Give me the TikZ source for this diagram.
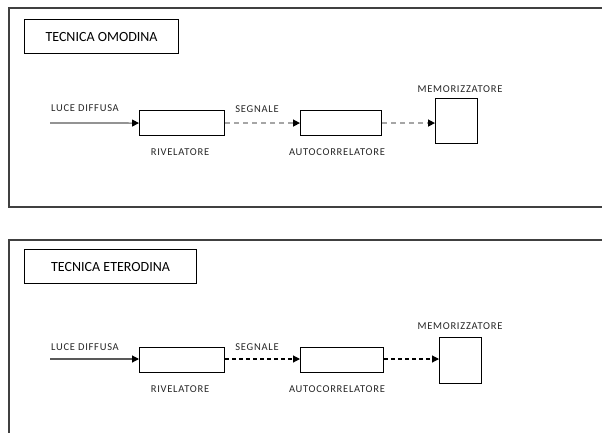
\documentclass[tikz,border=0pt]{standalone}
\usepackage{fontspec}
\setmainfont{Carlito}
\newfontfamily\lblfont[LetterSpace=7]{Carlito}
\usetikzlibrary{arrows.meta}
\begin{document}
\begin{tikzpicture}[x=1pt,y=-1pt,
  frame/.style={draw=black!75,line width=1.1pt},
  titlebox/.style={draw=black,line width=1.1pt,minimum width=#1,minimum height=34pt,inner sep=0pt,font=\fontsize{14}{16}\selectfont},
  blockbox/.style={draw=black,line width=1.1pt,inner sep=0pt},
  lbl/.style={font=\lblfont\fontsize{10.5}{12}\selectfont,inner sep=0pt,text=black!85},
  tip/.style={-{Triangle[length=7pt,width=7pt,fill=black,color=black]}},
  solidarrow/.style={tip,draw=black!65,line width=1.1pt},
  gdash/.style={tip,draw=black!35,line width=1.4pt,dash pattern=on 5pt off 4pt},
  kdash/.style={tip,draw=black,line width=1.1pt,dash pattern=on 4pt off 3pt}]
\useasboundingbox (0,0) rectangle (602,432);
% ---------- top panel ----------
\draw[frame] (608,8) -- (9,8) -- (9,207) -- (608,207);
\node[titlebox=154pt,anchor=north west] (t1) at (24,19) {TECNICA OMODINA};
\coordinate (s1) at (50,123);
\node[blockbox,minimum width=85pt,minimum height=25pt,anchor=north west] (r1) at (139,110) {};
\node[blockbox,minimum width=81pt,minimum height=25pt,anchor=north west] (a1) at (300,110) {};
\node[blockbox,minimum width=42pt,minimum height=45pt,anchor=north west] (m1) at (435,98) {};
\node[lbl] (l1) at (85,108) {LUCE DIFFUSA};
\node[lbl] (sg1) at (257,109) {SEGNALE};
\node[lbl] (rl1) at (180,152) {RIVELATORE};
\node[lbl] (al1) at (337,152) {AUTOCORRELATORE};
\node[lbl] (ml1) at (460,89) {MEMORIZZATORE};
\draw[solidarrow] (s1) -- (r1.west);
\draw[gdash] (r1.east) -- (a1.west);
\draw[gdash] (a1.east) -- (a1.east -| m1.west);
% ---------- bottom panel ----------
\draw[frame] (608,240) -- (9,240) -- (9,440);
\node[titlebox=172pt,anchor=north west] (t2) at (24,249) {TECNICA ETERODINA};
\coordinate (s2) at (50,359);
\node[blockbox,minimum width=85pt,minimum height=25pt,anchor=north west] (r2) at (139,347) {};
\node[blockbox,minimum width=83pt,minimum height=25pt,anchor=north west] (a2) at (300,347) {};
\node[blockbox,minimum width=42pt,minimum height=46pt,anchor=north west] (m2) at (439,337) {};
\node[lbl] (l2) at (85,347) {LUCE DIFFUSA};
\node[lbl] (sg2) at (257,347) {SEGNALE};
\node[lbl] (rl2) at (180,389) {RIVELATORE};
\node[lbl] (al2) at (337,389) {AUTOCORRELATORE};
\node[lbl] (ml2) at (460,326) {MEMORIZZATORE};
\draw[solidarrow] (s2) -- (s2 -| r2.west);
\draw[kdash] (r2.east |- s2) -- (a2.west |- s2);
\draw[kdash] (a2.east |- s2) -- (m2.west |- s2);
\end{tikzpicture}
\end{document}
